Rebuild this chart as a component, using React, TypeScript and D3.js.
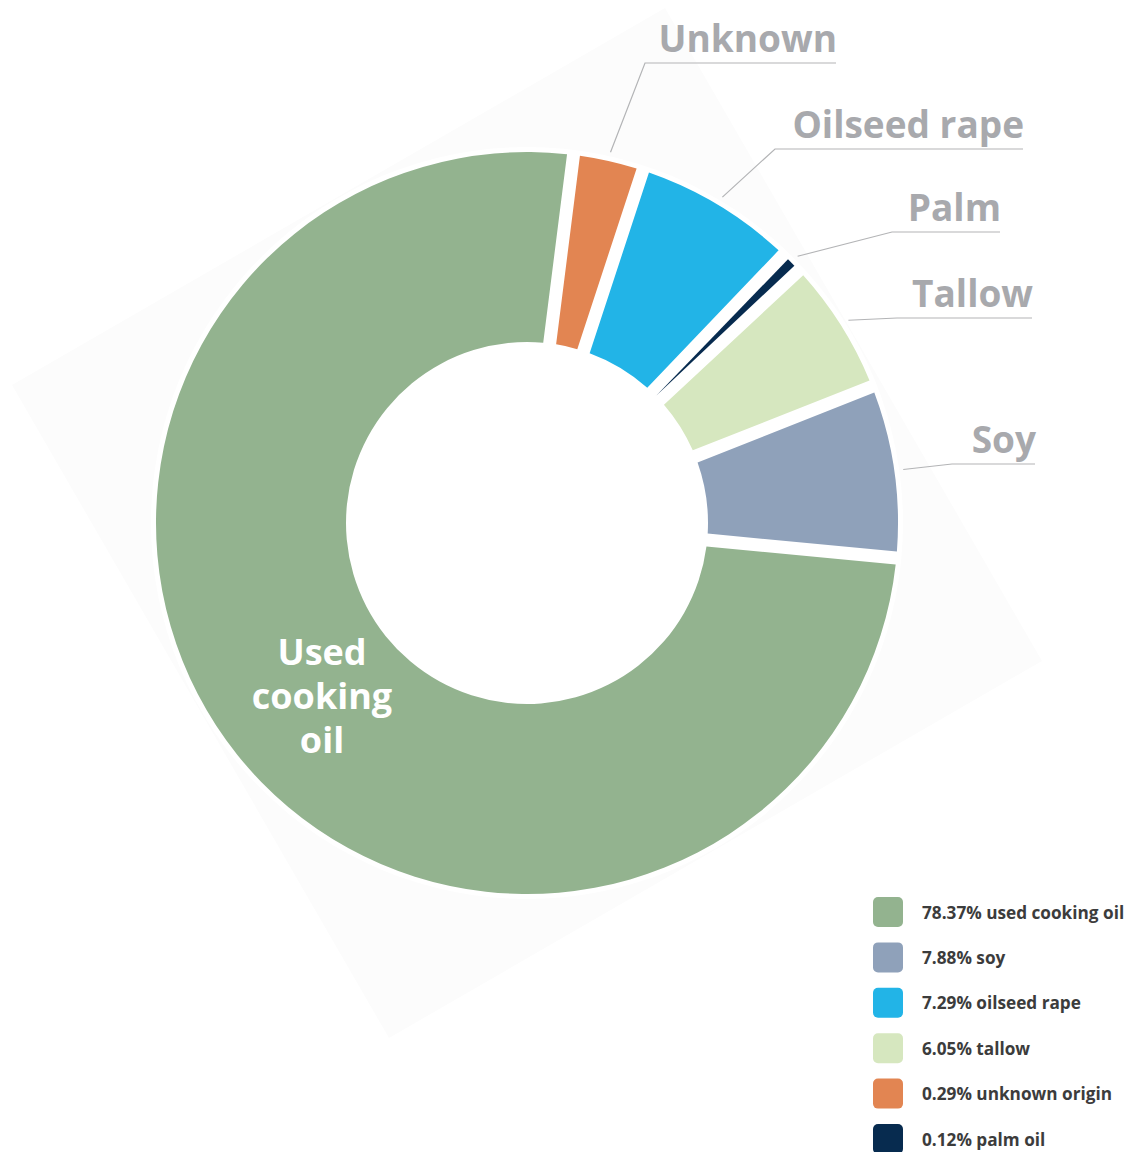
import React from 'react';
import * as d3 from 'd3';

// Slices in clockwise order, starting just right of 12 o'clock
const categories = ['Unknown', 'Oilseed rape', 'Palm', 'Tallow', 'Soy', 'Used cooking oil'];
// Drawn share of each slice (small slices are enlarged in the original)
const arcShares = [2.63, 6.79, 0.46, 5.58, 7.22, 77.32];
const sliceColors = ['#e28552', '#22b4e7', '#072b4f', '#d6e7bf', '#8fa1ba', '#93b38f'];

// Legend
const legendLabels = [
  '78.37% used cooking oil',
  '7.88% soy',
  '7.29% oilseed rape',
  '6.05% tallow',
  '0.29% unknown origin',
  '0.12% palm oil',
];
const legendColors = ['#93b38f', '#8fa1ba', '#22b4e7', '#d6e7bf', '#e28552', '#072b4f'];

// Callout layout for the first five slices (elbow point and end of underline)
const calloutLayout = [
  { ex: 645, ey: 63, endX: 836 },
  { ex: 775, ey: 149, endX: 1023 },
  { ex: 892, ey: 232, endX: 1000 },
  { ex: 897, ey: 318, endX: 1032 },
  { ex: 952, ey: 464, endX: 1035 },
];

const insideLabelLines = ['Used', 'cooking', 'oil'];

const W = 1131;
const H = 1152;
const cx = 527;
const cy = 523;
const innerR = 181;
const outerR = 371;
const startDeg = 7.2;

export default function App() {
  const pie = d3
    .pie<number>()
    .sort(null)
    .value((d) => d)
    .startAngle((startDeg * Math.PI) / 180)
    .endAngle((startDeg * Math.PI) / 180 + 2 * Math.PI)
    .padAngle(0.0315);
  const arcs = pie(arcShares);
  const arc = d3.arc<d3.PieArcDatum<number>>().innerRadius(innerR).outerRadius(outerR);
  const leaderArc = d3.arc<d3.PieArcDatum<number>>().innerRadius(380).outerRadius(380);

  const labelFont = "'Open Sans', 'DejaVu Sans', sans-serif";

  return (
    <svg
      width={W}
      height={H}
      viewBox={`0 0 ${W} ${H}`}
      style={{ position: 'absolute', left: 0, top: 0, background: '#ffffff' }}
    >
      <rect
        x={-377}
        y={-377}
        width={754}
        height={754}
        fill="#fcfcfc"
        transform={`translate(${cx},${cy}) rotate(-30)`}
      />
      <circle cx={cx} cy={cy} r={outerR + 5} fill="#ffffff" />
      <g transform={`translate(${cx},${cy})`}>
        {arcs.map((a, i) => (
          <path key={categories[i]} d={arc(a) || ''} fill={sliceColors[i]} />
        ))}
      </g>

      {calloutLayout.map((c, i) => {
        const [sx, sy] = leaderArc.centroid(arcs[i]);
        return (
          <g key={categories[i]}>
            <polyline
              points={`${cx + sx},${cy + sy} ${c.ex},${c.ey} ${c.endX},${c.ey}`}
              fill="none"
              stroke="#b3b4b6"
              strokeWidth={1.2}
            />
            <text
              x={c.endX + 1}
              y={c.ey - 11}
              textAnchor="end"
              fontFamily={labelFont}
              fontWeight={700}
              fontSize={37}
              fill="#a8a9ad"
            >
              {categories[i]}
            </text>
          </g>
        );
      })}

      <text
        textAnchor="middle"
        fontFamily={labelFont}
        fontWeight={700}
        fontSize={36}
        fill="#ffffff"
      >
        {insideLabelLines.map((t, i) => (
          <tspan key={t} x={322} y={665 + i * 44}>
            {t}
          </tspan>
        ))}
      </text>

      <g>
        {legendLabels.map((t, i) => {
          const y = 897 + i * 45.4;
          return (
            <g key={t}>
              <rect x={873} y={y} width={30} height={30} rx={5} fill={legendColors[i]} />
              <text
                x={922}
                y={y + 21.5}
                fontFamily={labelFont}
                fontWeight={700}
                fontSize={17.2}
                fill="#3c3c3c"
              >
                {t}
              </text>
            </g>
          );
        })}
      </g>
    </svg>
  );
}
